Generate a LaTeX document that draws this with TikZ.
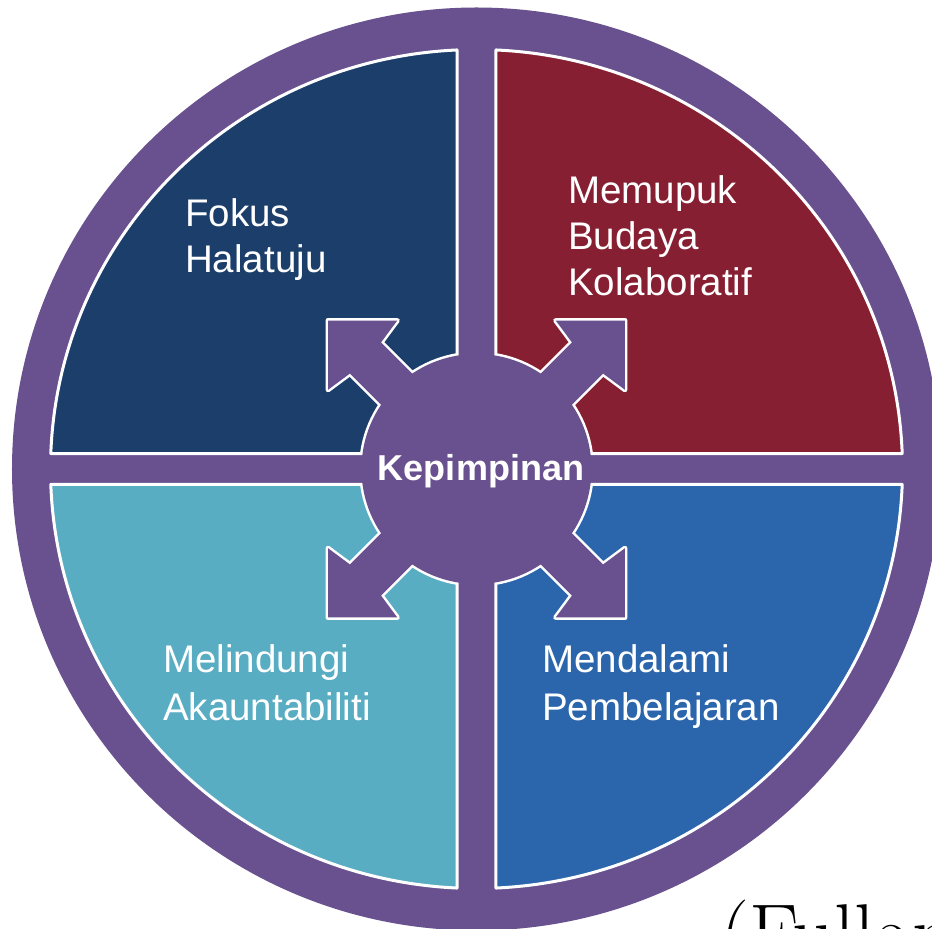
\documentclass[tikz,border=0pt]{standalone}
\usepackage{fontspec}
\newfontfamily\arial{Liberation Sans}
\definecolor{purp}{RGB}{104,81,142}
\definecolor{qdark}{RGB}{27,62,106}
\definecolor{qred}{RGB}{135,31,50}
\definecolor{qteal}{RGB}{89,173,195}
\definecolor{qblue}{RGB}{43,102,173}
\begin{document}
\begin{tikzpicture}[x=1pt,y=1pt,
  lbl/.style={text=white, inner sep=0pt, anchor=base west},
  qline/.style={draw=white, line width=3pt, line join=round},
  uline/.style={draw=white, line width=5pt, line join=round}]
\useasboundingbox (-476.5,-460) rectangle (455.5,469);
\fill[white] (-476.5,-460) rectangle (455.5,469);
% outer ring
\fill[purp] (0,0) ellipse [x radius=464.5pt, y radius=461.5pt];
% quadrants
\foreach \sx/\sy/\sa/\ea/\col in {1/1/87.376/2.117/qred, -1/1/177.883/92.624/qdark, -1/-1/182.117/267.376/qteal, 1/-1/272.624/357.883/qblue}{
  \draw[qline, fill=\col] ({\sx*19.5},{\sy*15.5}) -- (\sa:426pt and 419.5pt)
     arc[start angle=\sa, end angle=\ea, x radius=426pt, y radius=419.5pt] -- cycle;
}
% outline of the centre disc and arrows, only inside the quadrants
\foreach \sx/\sy/\sa/\ea in {1/1/87.376/2.117, -1/1/177.883/92.624, -1/-1/182.117/267.376, 1/-1/272.624/357.883}{
  \begin{scope}
    \clip ({\sx*19.5},{\sy*15.5}) -- (\sa:426pt and 419.5pt)
       arc[start angle=\sa, end angle=\ea, x radius=426pt, y radius=419.5pt] -- cycle;
    \draw[uline] (0,0) circle (115pt);
    \foreach \a in {45,135,225,315}{
      \draw[uline, rotate=\a] (100,22) -- (157,22) -- (161,49) -- (210,0) -- (161,-49) -- (157,-22) -- (100,-22);
    }
  \end{scope}
}
% centre disc and arrows
\fill[purp] (0,0) circle (115pt);
\foreach \a in {45,135,225,315}{
  \fill[purp, rotate=\a] (100,22) -- (157,22) -- (161,49) -- (210,0) -- (161,-49) -- (157,-22) -- (100,-22) -- cycle;
}
% labels
\node[lbl, font=\arial\fontsize{38.5}{46}\selectfont] (fokus) at (-291.5,242)
  {\begin{tabular}[t]{@{}l@{}}Fokus\\Halatuju\end{tabular}};
\node[lbl, font=\arial\fontsize{38.5}{46}\selectfont] (memupuk) at (91.5,265)
  {\begin{tabular}[t]{@{}l@{}}Memupuk\\Budaya\\Kolaboratif\end{tabular}};
\node[lbl, font=\arial\fontsize{38.5}{48}\selectfont] (melindungi) at (-313.5,-203)
  {\begin{tabular}[t]{@{}l@{}}Melindungi\\Akauntabiliti\end{tabular}};
\node[lbl, font=\arial\fontsize{38.5}{48}\selectfont] (mendalami) at (65.5,-203)
  {\begin{tabular}[t]{@{}l@{}}Mendalami\\Pembelajaran\end{tabular}};
\node[text=white, inner sep=0pt, anchor=base, font=\arial\bfseries\fontsize{36}{43}\selectfont] (kep) at (4.5,-11) {Kepimpinan};
\node[inner sep=0pt, anchor=base west, font=\fontsize{82}{90}\selectfont] (src) at (243.5,-492) {(Fullan};
\end{tikzpicture}
\end{document}
